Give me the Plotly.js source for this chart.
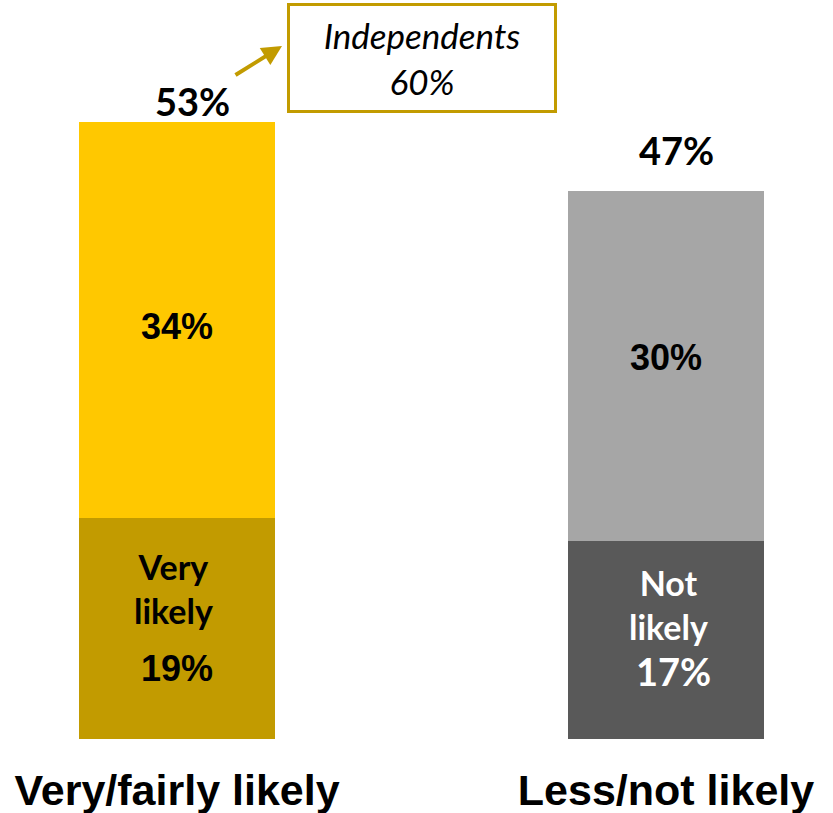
<!DOCTYPE html>
<html><head><meta charset="utf-8">
<script src="https://cdn.plot.ly/plotly-3.0.1.min.js"></script>
<style>html,body{margin:0;padding:0;background:#fff}#chart{width:833px;height:813px}</style>
</head><body><div id="chart"></div>
<script>
const categories = ["Very/fairly likely", "Less/not likely"];
const bottomLabels = ["Very<br>likely", "Not<br>likely"];
const bottomValues = [19, 17];
const topValues = [34, 30];
const totalValues = [53, 47];
const calloutLabel = "Independents";
const calloutValue = 60;

const xs = [0, 1];
const bottomColors = ["#C29B00", "#595959"];
const topColors = ["#FFC800", "#A6A6A6"];
const bottomTextColors = ["#000000", "#FFFFFF"];
const calFont = "Lato, 'Open Sans', sans-serif";
const arialFont = "'Liberation Sans', Arial, sans-serif";

const traces = [
  {type: "bar", x: xs, y: bottomValues, width: 0.4, marker: {color: bottomColors}, hoverinfo: "skip"},
  {type: "bar", x: xs, y: topValues, width: 0.4, marker: {color: topColors}, hoverinfo: "skip"}
];

const labelShift = [{x: -4, y: 40}, {x: 2, y: 35}];
const valueShift = [{x: 0, y: -40}, {x: 7, y: -31}];
const midShift = [-7, 9];
const totShift = [{x: 15, y: 21}, {x: 10, y: 41}];

const annotations = [];
xs.forEach((x, i) => {
  annotations.push({x: x, y: bottomValues[i] / 2, xref: "x", yref: "y", showarrow: false,
    text: bottomLabels[i], yshift: labelShift[i].y, xshift: labelShift[i].x,
    font: {family: calFont, size: 34, weight: "bold", color: bottomTextColors[i]}});
  annotations.push({x: x, y: bottomValues[i] / 2, xref: "x", yref: "y", showarrow: false,
    text: bottomValues[i] + "%", yshift: valueShift[i].y, xshift: valueShift[i].x,
    font: {family: i === 0 ? arialFont : calFont, size: i === 0 ? 36 : 38, weight: "bold", color: bottomTextColors[i]}});
  annotations.push({x: x, y: bottomValues[i] + topValues[i] / 2, xref: "x", yref: "y", showarrow: false,
    text: topValues[i] + "%", yshift: midShift[i],
    font: {family: arialFont, size: 36, weight: "bold", color: "#000"}});
  annotations.push({x: x, y: totalValues[i], xref: "x", yref: "y", showarrow: false,
    text: totalValues[i] + "%", yanchor: "middle", xshift: totShift[i].x, yshift: totShift[i].y,
    font: {family: calFont, size: 38, weight: "bold", color: "#000"}});
});
annotations.push({x: 422/833, y: 1 - 58/739, xref: "paper", yref: "paper", showarrow: false,
  xanchor: "center", yanchor: "middle",
  text: "<i>" + calloutLabel + "</i><br><i>" + calloutValue + "%</i>",
  width: 264, height: 104, bordercolor: "#C29B00", borderwidth: 3, borderpad: 0,
  font: {family: calFont, size: 35, color: "#000"}});
annotations.push({x: 282/833, y: 1 - 46/739, xref: "paper", yref: "paper", text: "",
  showarrow: true, arrowhead: 2, arrowsize: 1, arrowwidth: 4, arrowcolor: "#C29B00",
  ax: -48, ay: 30});

const layout = {
  width: 833, height: 813,
  margin: {l: 0, r: 0, t: 0, b: 74, pad: 0},
  paper_bgcolor: "#fff", plot_bgcolor: "#fff",
  barmode: "stack", bargap: 0, showlegend: false,
  xaxis: {range: [-0.362, 1.3415], tickvals: xs, ticktext: categories, showgrid: false,
    zeroline: false, showline: false, ticks: "", ticklabelstandoff: 22, automargin: false,
    tickfont: {family: arialFont, size: 43, weight: "bold", color: "#000"}, fixedrange: true},
  yaxis: {range: [0, 63.43], visible: false, showgrid: false, zeroline: false, fixedrange: true},
  annotations: annotations
};
Plotly.newPlot("chart", traces, layout, {displayModeBar: false, staticPlot: true});
</script></body></html>
